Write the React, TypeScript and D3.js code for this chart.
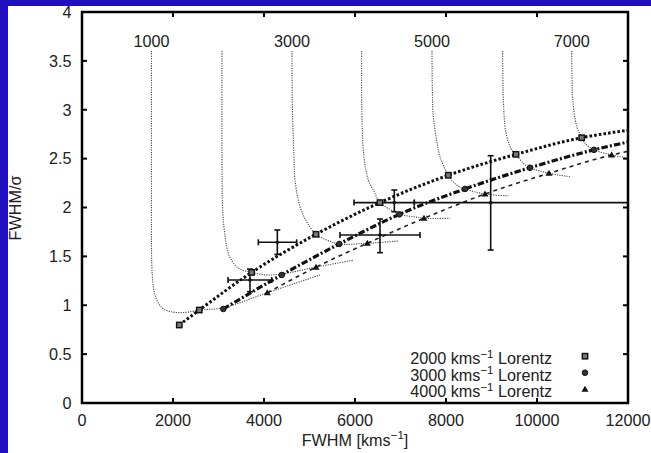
import React from 'react';
import * as d3 from 'd3';

const W = 651;
const H = 453;

const xTicks = [0, 2000, 4000, 6000, 8000, 10000, 12000];
const yTicks = [0, 0.5, 1, 1.5, 2, 2.5, 3, 3.5, 4];
const yTickLabels = ['0', '0.5', '1', '1.5', '2', '2.5', '3', '3.5', '4'];

// model curves (FWHM, FWHM/sigma), one per intrinsic width
const curveValues = [1000, 2000, 3000, 4000, 5000, 6000, 7000];
const curve1: [number, number][] = [[1527, 3.6], [1527, 2.2], [1530, 1.5], [1545, 1.3], [1565, 1.2], [1600, 1.11], [1680, 1.02], [1800, 0.96], [2000, 0.93], [2200, 0.925], [2400, 0.935], [2578, 0.951], [3106, 0.975], [4073, 1.128], [5230, 1.31]];
const curve2: [number, number][] = [[3077, 3.6], [3077, 2.5], [3090, 2.0], [3133, 1.75], [3240, 1.5], [3440, 1.38], [3729, 1.336], [4060, 1.31], [4389, 1.32], [5143, 1.39], [5960, 1.46]];
const curve3: [number, number][] = [[4615, 3.6], [4625, 3.0], [4659, 2.52], [4681, 2.28], [4791, 2.01], [4938, 1.855], [5143, 1.726], [5378, 1.668], [5655, 1.627], [6270, 1.634], [6950, 1.657]];
const curve4: [number, number][] = [[6147, 3.6], [6150, 3.0], [6190, 2.55], [6293, 2.28], [6403, 2.18], [6549, 2.05], [6769, 1.98], [6974, 1.93], [7282, 1.906], [7516, 1.89], [8090, 1.89]];
const curve5: [number, number][] = [[7692, 3.6], [7700, 3.2], [7721, 2.93], [7795, 2.69], [7868, 2.52], [8051, 2.33], [8235, 2.23], [8418, 2.19], [8857, 2.138], [9370, 2.12]];
const curve6: [number, number][] = [[9246, 3.6], [9250, 3.3], [9260, 3.1], [9319, 2.76], [9444, 2.59], [9538, 2.544], [9699, 2.452], [9846, 2.407], [10264, 2.35], [10725, 2.315]];
const curve7: [number, number][] = [[10763, 3.6], [10770, 3.3], [10785, 3.1], [10873, 2.83], [10982, 2.714], [11092, 2.64], [11253, 2.59], [11641, 2.537], [11970, 2.51]];
const curves = [curve1, curve2, curve3, curve4, curve5, curve6, curve7];

// Lorentz series
const sqX = [2138, 2578, 3729, 5143, 6549, 8051, 9538, 10982];
const sqY = [0.798, 0.951, 1.336, 1.726, 2.05, 2.33, 2.544, 2.714];
const sqEnd: [number, number] = [12000, 2.79];
const ciX = [3106, 4389, 5655, 6974, 8418, 9846, 11253];
const ciY = [0.962, 1.31, 1.627, 1.93, 2.19, 2.407, 2.59];
const ciEnd: [number, number] = [12000, 2.67];
const trX = [4073, 5143, 6270, 7516, 8857, 10264, 11641];
const trY = [1.128, 1.39, 1.634, 1.89, 2.138, 2.35, 2.537];
const trEnd: [number, number] = [12000, 2.575];

// observed objects with error bars
const obsX = [3692, 4293, 6864, 6549, 8982];
const obsY = [1.258, 1.644, 2.05, 1.719, 2.05];
const obsXLow = [3209, 3875, 5978, 5670, 7303];
const obsXHigh = [4169, 4718, 7303, 7429, 12600];
const obsYLow = [1.139, 1.52, 1.957, 1.538, 1.565];
const obsYHigh = [1.37, 1.77, 2.179, 1.882, 2.53];

const legendLabels = ['2000', '3000', '4000'];

const FONT = "'Liberation Sans', Arial, Helvetica, sans-serif";
const TXT = '#222';
const FS = 16.2;

export default function App() {
  const L = 82, R = 628, T = 12, B = 403;
  const x = d3.scaleLinear().domain([0, 12000]).range([L, R]);
  const y = d3.scaleLinear().domain([0, 4]).range([B, T]);

  const curveGen = d3.line<[number, number]>().x(d => x(d[0])).y(d => y(d[1])).curve(d3.curveCatmullRom.alpha(0.5));
  const seriesGen = d3.line<[number, number]>().x(d => x(d[0])).y(d => y(d[1])).curve(d3.curveMonotoneX);

  const sqPts: [number, number][] = [...sqX.map((v, i) => [v, sqY[i]] as [number, number]), sqEnd];
  const ciPts: [number, number][] = [...ciX.map((v, i) => [v, ciY[i]] as [number, number]), ciEnd];
  const trPts: [number, number][] = [...trX.map((v, i) => [v, trY[i]] as [number, number]), trEnd];

  const square = (cx: number, cy: number, k: string) => (
    <rect key={k} x={cx - 2.7} y={cy - 2.7} width={5.4} height={5.4} fill="#777" stroke="#111" strokeWidth={1.4} />
  );
  const circle = (cx: number, cy: number, k: string) => (
    <circle key={k} cx={cx} cy={cy} r={2.8} fill="#333" stroke="#111" strokeWidth={1} />
  );
  const tri = (cx: number, cy: number, k: string) => (
    <path key={k} d={`M${cx},${cy - 3.5}L${cx + 3.5},${cy + 2.5}L${cx - 3.5},${cy + 2.5}Z`} fill="#111" />
  );

  const cap = 3;

  return (
    <svg width={W} height={H} style={{ position: 'absolute', left: 0, top: 0, display: 'block' }} fontFamily={FONT}>
      <defs>
        <clipPath id="plotclip">
          <rect x={L} y={T} width={R - L} height={B - T} />
        </clipPath>
      </defs>
      <rect x={0} y={0} width={W} height={H} fill="#2010bf" />
      <rect x={8} y={6} width={W - 8} height={H - 6} fill="#ffffff" />

      <g clipPath="url(#plotclip)">
        {curves.map((c, i) => (
          <path key={'c' + i} d={curveGen(c) || ''} fill="none" stroke="#4a4a4a" strokeWidth={1.1} strokeDasharray="1.2 1.2" />
        ))}
        <path d={seriesGen(sqPts) || ''} fill="none" stroke="#111" strokeWidth={3} strokeDasharray="2.6 2.1" />
        <path d={seriesGen(ciPts) || ''} fill="none" stroke="#111" strokeWidth={3.2} strokeDasharray="6.5 2.2 2 2.2" />
        <path d={seriesGen(trPts) || ''} fill="none" stroke="#222" strokeWidth={1.6} strokeDasharray="4 4" />

        {obsX.map((v, i) => {
          const cx = x(v), cy = y(obsY[i]);
          const x1 = x(obsXLow[i]), x2 = x(obsXHigh[i]);
          const y1 = y(obsYLow[i]), y2 = y(obsYHigh[i]);
          return (
            <g key={'o' + i} stroke="#111" strokeWidth={1.6}>
              <line x1={x1} x2={x2} y1={cy} y2={cy} />
              <line x1={x1} x2={x1} y1={cy - cap} y2={cy + cap} />
              <line x1={x2} x2={x2} y1={cy - cap} y2={cy + cap} />
              <line x1={cx} x2={cx} y1={y1} y2={y2} />
              <line x1={cx - cap} x2={cx + cap} y1={y1} y2={y1} />
              <line x1={cx - cap} x2={cx + cap} y1={y2} y2={y2} />
              <circle cx={cx} cy={cy} r={1.8} fill="#111" stroke="none" />
            </g>
          );
        })}

        {sqX.map((v, i) => square(x(v), y(sqY[i]), 's' + i))}
        {ciX.map((v, i) => circle(x(v), y(ciY[i]), 'ci' + i))}
        {trX.map((v, i) => tri(x(v), y(trY[i]), 't' + i))}
      </g>

      {curveValues.map((v, i) => (i % 2 === 0 ? (
        <text key={'cl' + i} x={x(curves[i][0][0])} y={y(curves[i][0][1]) - 4.5} textAnchor="middle" fontSize={FS} fill={TXT}>{v}</text>
      ) : null))}

      {/* frame */}
      <rect x={L} y={T} width={R - L} height={B - T} fill="none" stroke="#000" strokeWidth={2.5} />
      {xTicks.slice(1, -1).map((t, i) => (
        <g key={'xt' + i} stroke="#000" strokeWidth={2}>
          <line x1={x(t)} x2={x(t)} y1={B} y2={B - 5} />
          <line x1={x(t)} x2={x(t)} y1={T} y2={T + 5} />
        </g>
      ))}
      {yTicks.slice(1, -1).map((t, i) => (
        <g key={'yt' + i} stroke="#000" strokeWidth={2}>
          <line x1={L} x2={L + 5} y1={y(t)} y2={y(t)} />
          <line x1={R} x2={R - 5} y1={y(t)} y2={y(t)} />
        </g>
      ))}
      {xTicks.map((t, i) => (
        <text key={'xl' + i} x={x(t)} y={426} textAnchor="middle" fontSize={FS} fill={TXT}>{t}</text>
      ))}
      {yTicks.map((t, i) => (
        <text key={'yl' + i} x={71.5} y={y(t) + 5.8} textAnchor="end" fontSize={FS} fill={TXT}>{yTickLabels[i]}</text>
      ))}

      <text x={355} y={445.5} textAnchor="middle" fontSize={FS} fill={TXT}>
        FWHM [kms<tspan fontSize={11.5} dy={-6.5}>−1</tspan><tspan dy={6.5}>]</tspan>
      </text>
      <text transform="translate(21,208) rotate(-90)" textAnchor="middle" fontSize={FS} fill={TXT}>FWHM/σ</text>

      {legendLabels.map((lab, i) => {
        const by = 364 + i * 16.5;
        const my = by - 7.8;
        return (
          <g key={'lg' + i}>
            <text x={552} y={by} textAnchor="end" fontSize={FS} fill={TXT}>
              {lab} kms<tspan fontSize={11.5} dy={-6.5}>−1</tspan><tspan dy={6.5}> Lorentz</tspan>
            </text>
            {i === 0 ? square(585, my, 'ls') : i === 1 ? circle(585, my, 'lc') : tri(585, my, 'lt')}
          </g>
        );
      })}
    </svg>
  );
}
